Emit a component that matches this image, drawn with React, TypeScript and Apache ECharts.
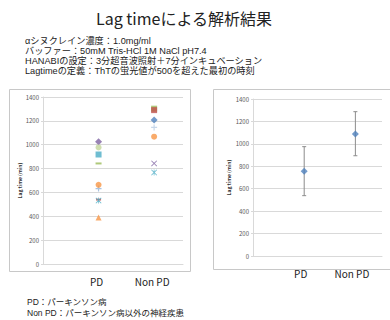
import React, { useEffect, useRef } from "react";
import * as echarts from "echarts";

const categories = ["PD", "Non PD"];
const yTicks = [0, 200, 400, 600, 800, 1000, 1200, 1400];

// Individual lag times (min)
const pdLagTimes = [1025, 977, 918, 843, 632, 664, 540, 532, 389];
const nonPdLagTimes = [1302, 1290, 1207, 1145, 1067, 843, 767];

// Mean and error range
const meanLagTimes = [755, 1088];
const lowerLagTimes = [538, 894];
const upperLagTimes = [975, 1287];

const titleText = "Lag timeによる解析結果";
const conditionLines = [
  "αシヌクレイン濃度：1.0mg/ml",
  "バッファー：50mM Tris-HCl 1M NaCl pH7.4",
  "HANABIの設定：3分超音波照射＋7分インキュベーション",
  "Lagtimeの定義：ThTの蛍光値が500を超えた最初の時刻",
];
const noteLines = ["PD：パーキンソン病", "Non PD：パーキンソン病以外の神経疾患"];
const yAxisName = "Lag time (min)";

const PLUS = "path://M4,0H6V4H10V6H6V10H4V6H0V4H4Z";
const XMARK = "path://M0,1L1,0L5,4L9,0L10,1L6,5L10,9L9,10L5,6L1,10L0,9L4,5Z";
const STAR = "path://M0,1L1,0L5,4L9,0L10,1L6,5L10,9L9,10L5,6L1,10L0,9L4,5ZM4.4,0H5.6V10H4.4Z";

const pdMarkers = [
  { symbol: "diamond", size: 7, color: "#8064A2" },
  { symbol: "circle", size: 6, color: "#C3D69B" },
  { symbol: "rect", size: 6, color: "#4BACC6" },
  { symbol: "rect", size: [6, 2], color: "#9BBB59" },
  { symbol: PLUS, size: 6, color: "#95B3D7" },
  { symbol: "circle", size: 6, color: "#F79646" },
  { symbol: "rect", size: [5, 2], color: "#C0504D" },
  { symbol: STAR, size: 6, color: "#4BACC6" },
  { symbol: "triangle", size: 6, color: "#F79646" },
];
const nonPdMarkers = [
  { symbol: "rect", size: 6, color: "#9BBB59" },
  { symbol: "rect", size: 6, color: "#C0504D" },
  { symbol: "diamond", size: 7, color: "#4F81BD" },
  { symbol: PLUS, size: 6, color: "#B9CDE5" },
  { symbol: "circle", size: 6, color: "#F79646" },
  { symbol: XMARK, size: 6, color: "#8064A2" },
  { symbol: STAR, size: 6, color: "#4BACC6" },
];

const FONT = "'Noto Sans CJK JP', 'Noto Sans', sans-serif";
const MIXED_FONT = "'Liberation Sans', 'Noto Sans CJK JP', sans-serif";

export default function App() {
  const ref = useRef<HTMLDivElement>(null);
  useEffect(() => {
    if (!ref.current) return;
    const chart = echarts.init(ref.current, null, { renderer: "svg" });

    const pointItems = (values: number[], markers: any[], x: number) =>
      values.map((v, i) => ({
        value: [x, v],
        symbol: markers[i].symbol,
        symbolSize: markers[i].size,
        itemStyle: { color: markers[i].color },
      }));

    const xAxisCommon = (gridIndex: number, shift: number) => ({
      type: "value",
      gridIndex,
      min: 0,
      max: 2.52,
      interval: 1,
      axisLine: { show: true, lineStyle: { color: "#d9d9d9" } },
      axisTick: { show: false },
      splitLine: { show: false },
      axisLabel: {
        fontSize: 10,
        fontFamily: FONT,
        color: "#222",
        margin: 12,
        padding: [0, shift, 0, 0],
        formatter: (v: number) =>
          Number.isInteger(v) && v >= 1 && v <= categories.length ? categories[v - 1] : "",
      },
    });
    const yAxisCommon = (gridIndex: number, nameGap: number) => ({
      type: "value",
      gridIndex,
      min: yTicks[0],
      max: yTicks[yTicks.length - 1],
      interval: yTicks[1] - yTicks[0],
      name: yAxisName,
      nameLocation: "middle",
      nameGap,
      nameTextStyle: { fontSize: 5, fontWeight: "bold", color: "#333", fontFamily: FONT },
      axisLine: { show: true, lineStyle: { color: "#d9d9d9" } },
      axisTick: { show: true, length: 2, lineStyle: { color: "#d9d9d9" } },
      splitLine: { show: true, lineStyle: { color: "#d9d9d9" } },
      axisLabel: {
        fontSize: 6,
        color: "#595959",
        margin: 4,
        fontFamily: FONT,
        formatter: (v: number) => String(v),
      },
    });

    chart.setOption({
      animation: false,
      grid: [
        { left: 43, top: 97, width: 140, height: 167 },
        { left: 253, top: 99, width: 129, height: 157 },
      ],
      xAxis: [xAxisCommon(0, 4), xAxisCommon(1, 7)],
      yAxis: [yAxisCommon(0, 21), yAxisCommon(1, 22)],
      graphic: [
        {
          type: "rect",
          shape: { x: 9.5, y: 89.5, width: 181, height: 182 },
          style: { fill: "none", stroke: "#c8c8c8", lineWidth: 1 },
          z: -1,
        },
        {
          type: "rect",
          shape: { x: 213.5, y: 89.5, width: 190, height: 180 },
          style: { fill: "none", stroke: "#c8c8c8", lineWidth: 1 },
          z: -1,
        },
        {
          type: "text",
          x: 184,
          y: 18,
          style: {
            text: titleText,
            fontSize: 16,
            fontFamily: FONT,
            fill: "#222",
            textAlign: "center",
            textVerticalAlign: "middle",
          },
        },
        ...conditionLines.map((t, i) => ({
          type: "text",
          x: 25,
          y: 40.5 + i * 10.2,
          style: {
            text: t,
            fontSize: 9.2,
            lineHeight: 10,
            fontFamily: MIXED_FONT,
            fill: "#222",
            textAlign: "left",
            textVerticalAlign: "middle",
          },
        })),
        ...noteLines.map((t, i) => ({
          type: "text",
          x: 27,
          y: 302 + i * 11,
          style: {
            text: t,
            fontSize: 8.5,
            lineHeight: 10,
            fontFamily: MIXED_FONT,
            fill: "#222",
            textAlign: "left",
            textVerticalAlign: "middle",
          },
        })),
      ],
      series: [
        {
          type: "scatter",
          xAxisIndex: 0,
          yAxisIndex: 0,
          data: [
            ...pointItems(pdLagTimes, pdMarkers, 1),
            ...pointItems(nonPdLagTimes, nonPdMarkers, 2),
          ],
        },
        {
          type: "custom",
          xAxisIndex: 1,
          yAxisIndex: 1,
          data: meanLagTimes.map((_, i) => [i + 1, lowerLagTimes[i], upperLagTimes[i]]),
          renderItem: (params: any, api: any) => {
            const x = api.value(0);
            const lo = api.coord([x, api.value(1)]);
            const hi = api.coord([x, api.value(2)]);
            const cap = 2;
            const style = { stroke: "#8c8c8c", lineWidth: 1 };
            return {
              type: "group",
              children: [
                { type: "line", shape: { x1: lo[0], y1: lo[1], x2: hi[0], y2: hi[1] }, style },
                { type: "line", shape: { x1: lo[0] - cap, y1: lo[1], x2: lo[0] + cap, y2: lo[1] }, style },
                { type: "line", shape: { x1: hi[0] - cap, y1: hi[1], x2: hi[0] + cap, y2: hi[1] }, style },
              ],
            };
          },
          z: 1,
        },
        {
          type: "scatter",
          xAxisIndex: 1,
          yAxisIndex: 1,
          symbol: "diamond",
          symbolSize: 7,
          itemStyle: { color: "#4F81BD" },
          data: meanLagTimes.map((v, i) => [i + 1, v]),
          z: 3,
        },
      ],
    });
    return () => chart.dispose();
  }, []);

  return (
    <div
      ref={ref}
      style={{ position: "absolute", left: 0, top: 0, width: 390, height: 320, background: "#fff" }}
    />
  );
}
